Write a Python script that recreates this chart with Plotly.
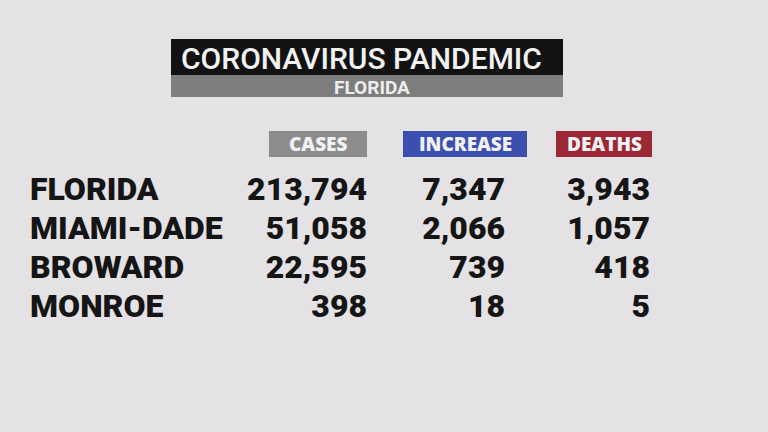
import plotly.graph_objects as go

# Table data
regions = ['FLORIDA', 'MIAMI-DADE', 'BROWARD', 'MONROE']
cases = [213794, 51058, 22595, 398]
increase = [7347, 2066, 739, 18]
deaths = [3943, 1057, 418, 5]

columns = ['CASES', 'INCREASE', 'DEATHS']
column_colors = ['#8c8c8c', '#3b4fae', '#9b2935']

title = 'CORONAVIRUS PANDEMIC'
subtitle = 'FLORIDA'

W, H = 768, 432
row_y = [192 + 39 * i for i in range(len(regions))]
col_right = [367, 505, 650]
col_box = [(269, 367), (403, 527), (556, 652)]

cell_font = dict(family='Roboto', size=32, color='#151515', weight=900)

fig = go.Figure()

# region names
fig.add_trace(go.Scatter(
    x=[30] * len(regions), y=row_y, text=regions, mode='text',
    textposition='middle right', textfont=cell_font,
    hoverinfo='skip', showlegend=False))

# numbers
for vals, xr in zip([cases, increase, deaths], col_right):
    fig.add_trace(go.Scatter(
        x=[xr] * len(vals), y=row_y, text=[f'{v:,}' for v in vals], mode='text',
        textposition='middle left', textfont=cell_font,
        hoverinfo='skip', showlegend=False))

shapes = []
annotations = []

# title block
shapes.append(dict(type='rect', x0=171, x1=563, y0=39, y1=75, fillcolor='#121212', line_width=0, layer='below'))
shapes.append(dict(type='rect', x0=171, x1=563, y0=75, y1=97, fillcolor='#7d7d7d', line_width=0, layer='below'))
annotations.append(dict(x=179, y=58, text=title, showarrow=False, xanchor='left', yanchor='middle',
                        font=dict(family='Roboto', size=30, color='#f2f2f2', weight=500)))
annotations.append(dict(x=372, y=87, text=subtitle, showarrow=False, xanchor='center', yanchor='middle',
                        font=dict(family='Roboto', size=19, color='#eeeeee', weight=700)))

# column headers
for name, color, (x0, x1) in zip(columns, column_colors, col_box):
    shapes.append(dict(type='rect', x0=x0, x1=x1, y0=131, y1=157, fillcolor=color, line_width=0, layer='below'))
    annotations.append(dict(x=(x0 + x1) / 2, y=144, text=name, showarrow=False, xanchor='center', yanchor='middle',
                            font=dict(family='Open Sans', size=19, color='#f0f0f5', weight=800)))

fig.update_layout(
    width=W, height=H,
    margin=dict(l=0, r=0, t=0, b=0),
    paper_bgcolor='#dedcde',
    plot_bgcolor='#e4e2e4',
    shapes=shapes,
    annotations=annotations,
    xaxis=dict(range=[0, W], visible=False, fixedrange=True),
    yaxis=dict(range=[H, 0], visible=False, fixedrange=True),
)

fig.write_html("out.html", config={'displayModeBar': False},
               post_script="document.body.style.margin='0';")
